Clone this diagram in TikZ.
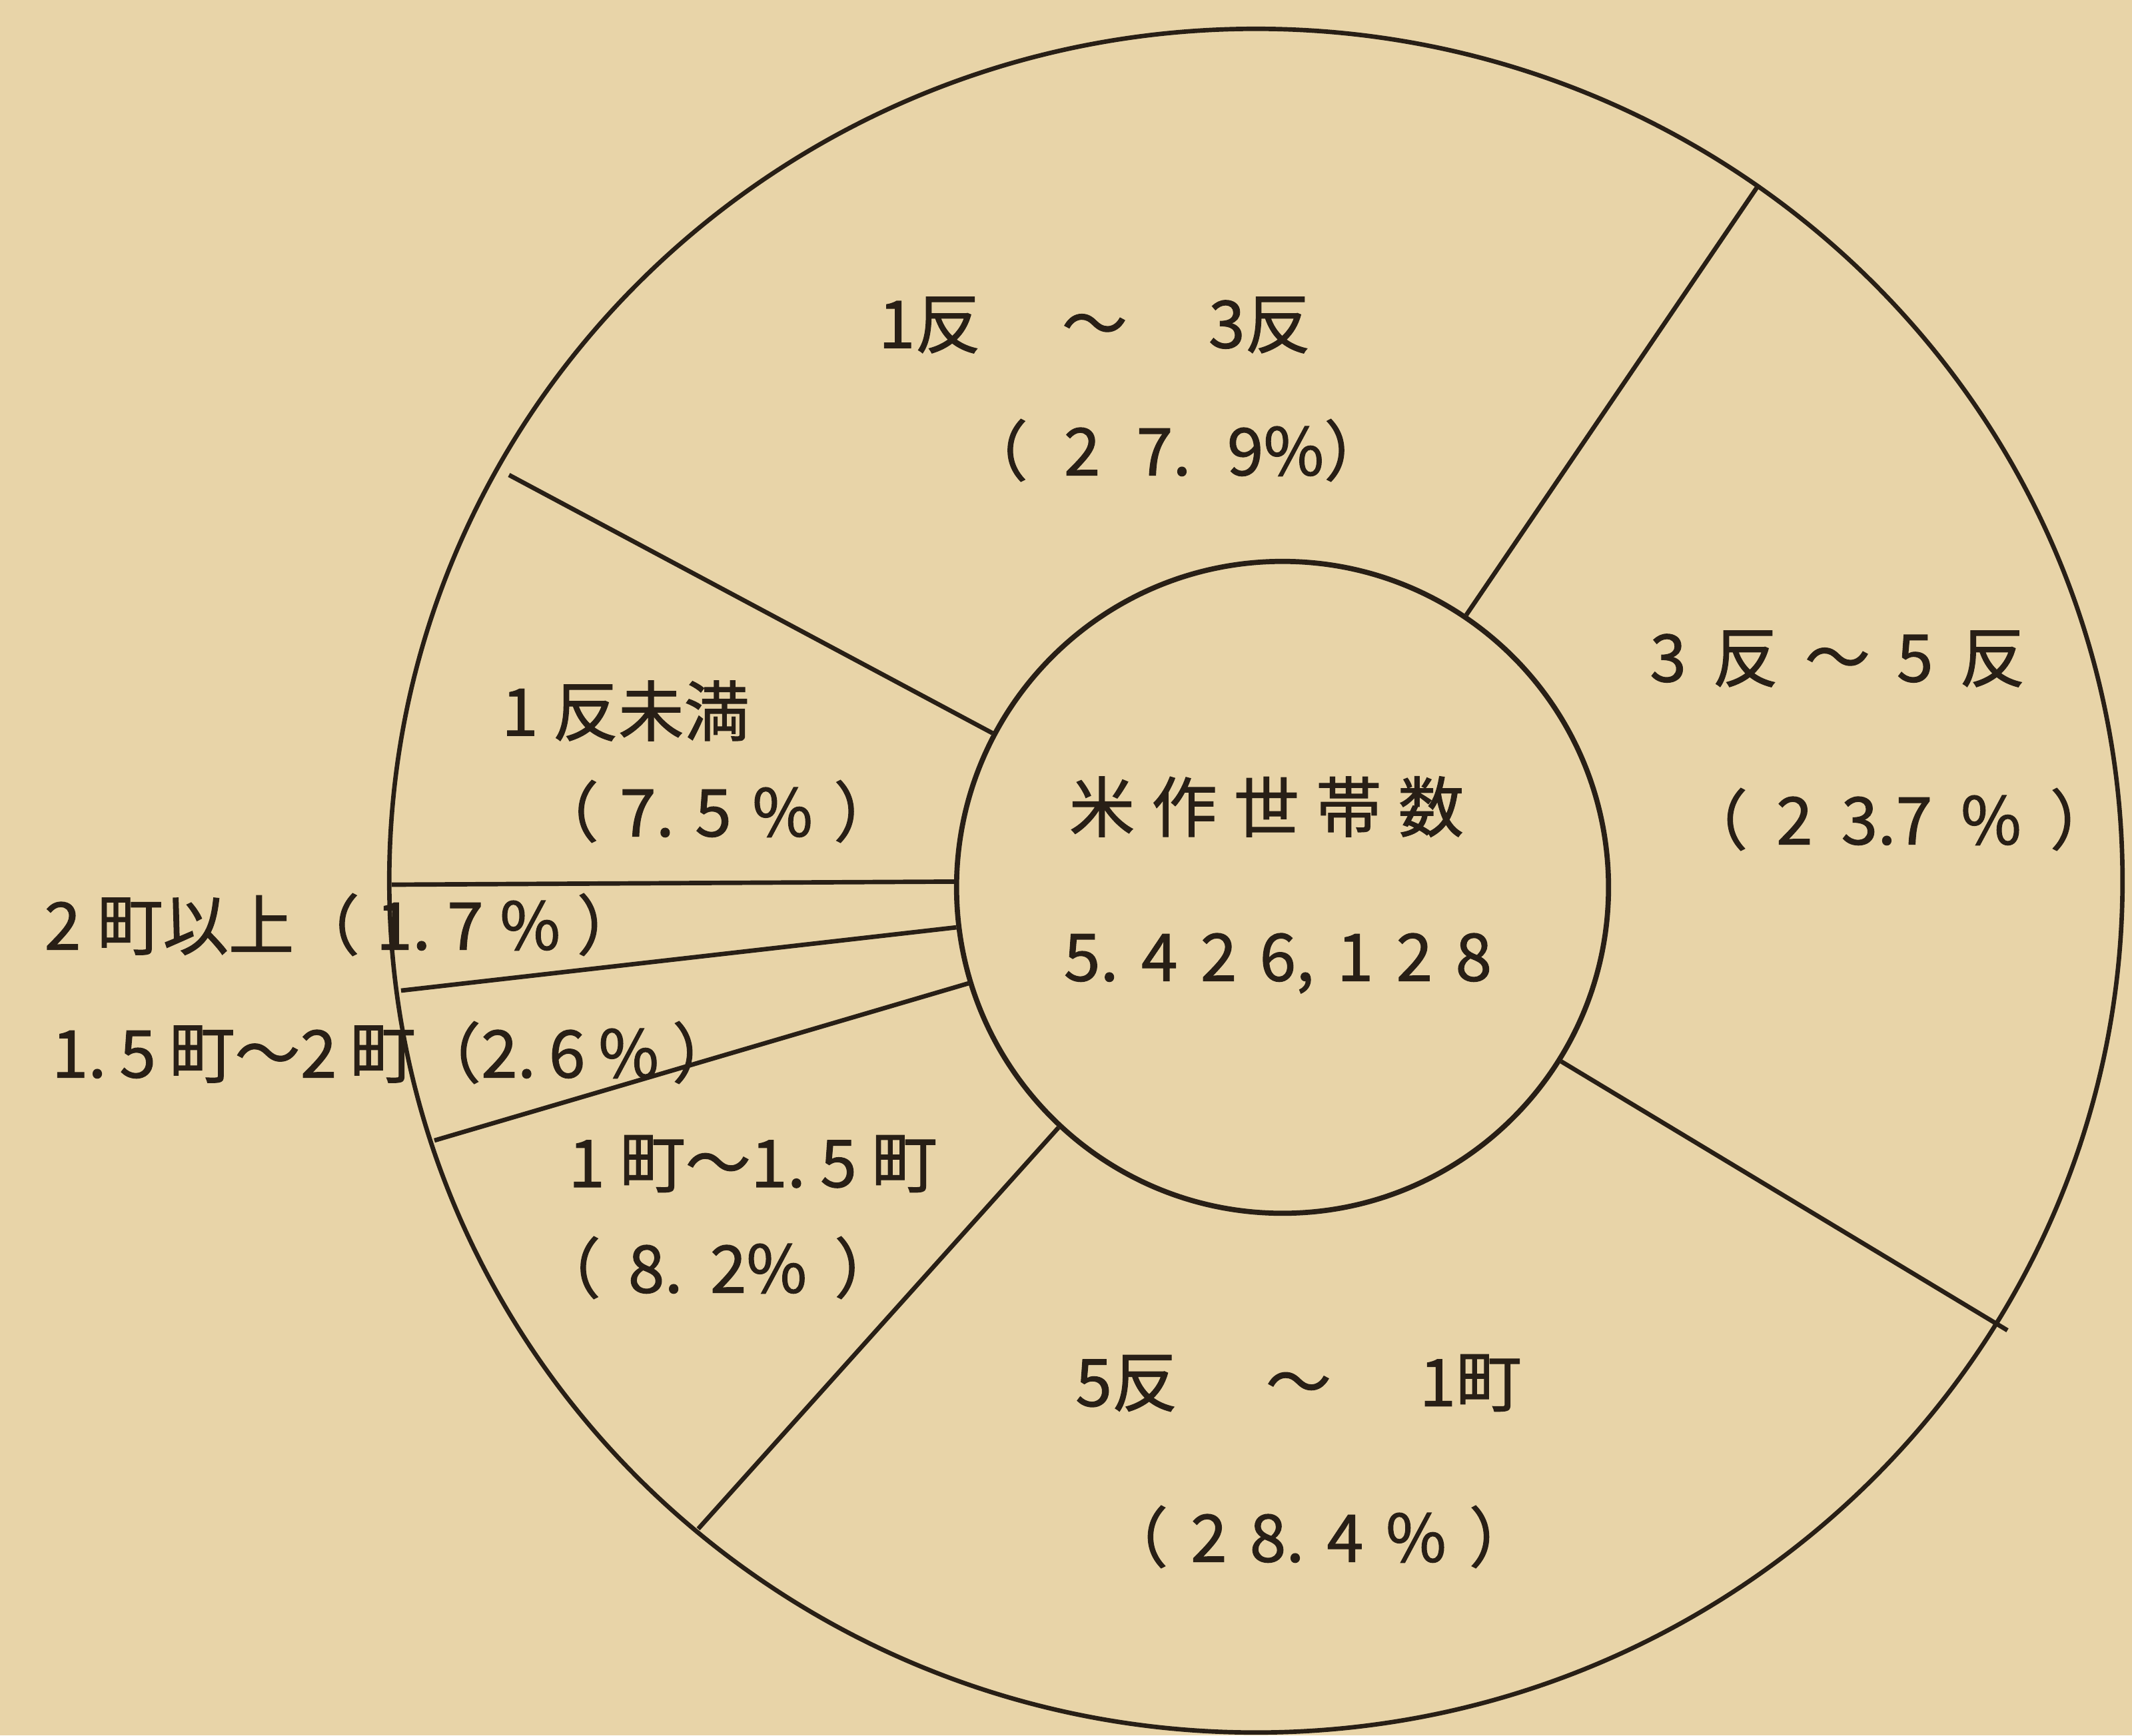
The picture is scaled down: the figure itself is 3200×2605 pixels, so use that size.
\documentclass[tikz,border=0pt]{standalone}
\usepackage{fontspec}
\setmainfont{Noto Sans CJK JP}
\newfontfamily\labfont{Noto Sans CJK JP}[FakeBold=1.2]
\definecolor{paper}{RGB}{232,212,168}
\definecolor{ink}{RGB}{40,31,22}
\begin{document}
\frenchspacing
\begin{tikzpicture}[x=0.01cm,y=-0.01cm,
  seg/.style={draw=ink, line width=1.9pt},
  lab/.style={text=ink, inner sep=0pt, font=\labfont\fontsize{28}{32}\selectfont},
  ]
\fill[paper] (0,0) rectangle (3200,2605);
\useasboundingbox (0,0) rectangle (3200,2605);
\coordinate (ctr) at (1885,1322);
\draw[seg] (ctr) ellipse [x radius=13cm, y radius=12.78cm];
\node[circle, draw=ink, line width=2.2pt, minimum size=9.78cm, inner sep=0pt] (hub) at (1925,1332) {};
\coordinate (o1) at (2640,277);
\coordinate (o2) at (764,713);
\coordinate (o3) at (588,1328);
\coordinate (o4) at (602,1487);
\coordinate (o5) at (652,1712);
\coordinate (o6) at (1048,2295);
\coordinate (o7) at (3013,1997);
\draw[seg] (hub.56.9) -- (o1);
\draw[seg] (hub.152.9) -- (o2);
\draw[seg] (hub.179.8) -- (o3);
\draw[seg] (hub.187.0) -- (o4);
\draw[seg] (hub.197.3) -- (o5);
\draw[seg] (hub.227.0) -- (o6);
\draw[seg] (hub.328.6) -- (o7);
% labels
\node[lab] (t1) at (1643,488) {\makebox[6.48cm][s]{1反 ～ 3反}};
\node[lab] (t2) at (1765,676) {\makebox[6.41cm][s]{（ 2 7. 9\%）}};
\node[lab] (r1) at (2758,989) {\makebox[5.63cm][s]{3 反 ～ 5 反}};
\node[lab] (r2) at (2850,1230) {\makebox[6.50cm][s]{（ 2 3.7 \% ）}};
\node[lab] (l1) at (939,1067) {1 反未満};
\node[lab] (l2) at (1075,1218) {\makebox[5.49cm][s]{（ 7. 5 \% ）}};
\node[lab] (c1) at (1901,1211) {\makebox[5.92cm][s]{米 作 世 帯 数}};
\node[lab] (c2) at (1918,1446) {\makebox[6.42cm][s]{5. 4 2 6, 1 2 8}};
\node[lab, anchor=west] (a1) at (66,1388) {\makebox[8.97cm][s]{2 町以上（ 1. 7 \% ）}};
\node[lab, anchor=west] (a2) at (77,1580) {\makebox[10.29cm][s]{1. 5 町～2 町（2. 6 \% ）}};
\node[lab] (m1) at (1130,1747) {\makebox[5.53cm][s]{1 町～1. 5 町}};
\node[lab] (m2) at (1077,1903) {\makebox[5.47cm][s]{（ 8. 2\% ）}};
\node[lab] (b1) at (1949,2076) {\makebox[6.69cm][s]{5反 ～ 1町}};
\node[lab] (b2) at (1979,2307) {\makebox[6.48cm][s]{（ 2 8. 4 \% ）}};
\end{tikzpicture}
\end{document}
